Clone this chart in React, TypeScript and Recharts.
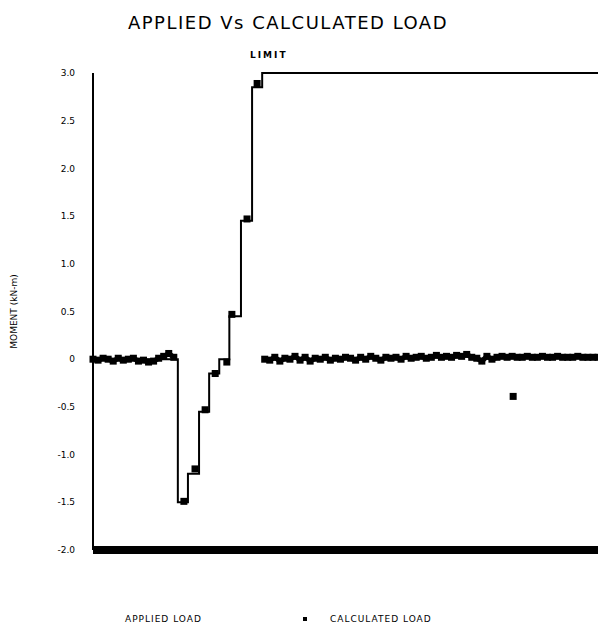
import React from 'react';
import { LineChart, Line, XAxis, YAxis } from 'recharts';

const yTicks = [3, 2.5, 2, 1.5, 1, 0.5, 0, -0.5, -1, -1.5, -2];
const yTickLabels = ['3.0', '2.5', '2.0', '1.5', '1.0', '0.5', '0', '-0.5', '-1.0', '-1.5', '-2.0'];

// Applied load: step breakpoints
const appliedX = [0, 16.8, 18.8, 21, 23, 25, 27, 29.3, 31.5, 33.5, 100];
const appliedY = [0, -1.5, -1.2, -0.55, -0.15, 0, 0.45, 1.45, 2.85, 3.0, 3.0];

// Calculated load: noisy baseline before the step
const calcLeftX = [0, 1, 2, 3, 4, 5, 6, 7, 8, 9, 10, 11, 12, 13, 14, 15, 16];
const calcLeftY = [0.0, -0.01, 0.01, 0.0, -0.02, 0.01, -0.01, 0.0, 0.01, -0.02, -0.01, -0.03, -0.02, 0.01, 0.03, 0.06, 0.02];

// Calculated load: step markers
const calcStepX = [18.0, 20.2, 22.2, 24.2, 26.5, 27.5, 30.5, 32.5];
const calcStepY = [-1.49, -1.15, -0.53, -0.15, -0.03, 0.47, 1.47, 2.89];

// Calculated load: noisy baseline after the step
const calcRightStart = 34;
const calcRightY = [
  0.0, -0.01, 0.02, -0.02, 0.01, 0.0, 0.03, -0.01, 0.02, -0.02, 0.01, 0.0, 0.02, -0.01, 0.01, 0.0,
  0.02, 0.01, -0.01, 0.02, 0.0, 0.03, 0.01, -0.01, 0.02, 0.01, 0.02, 0.0, 0.03, 0.01, 0.02, 0.03,
  0.01, 0.02, 0.04, 0.02, 0.03, 0.02, 0.04, 0.03, 0.05, 0.02, 0.01, -0.02, 0.03, 0.0, 0.02, 0.03,
  0.02, 0.03, 0.02, 0.02, 0.03, 0.02, 0.02, 0.03, 0.02, 0.02, 0.03, 0.02, 0.02, 0.02, 0.03, 0.02,
  0.02, 0.02, 0.02,
];
const calcOutlierX = [83.2];
const calcOutlierY = [-0.39];

const appliedData = appliedX.map((x, i) => ({ x, v: appliedY[i] }));

const calcData: { x: number; v: number | null }[] = [];
calcLeftX.forEach((x, i) => calcData.push({ x, v: calcLeftY[i] }));
calcStepX.forEach((x, i) => {
  calcData.push({ x, v: null });
  calcData.push({ x, v: calcStepY[i] });
});
calcData.push({ x: calcRightStart, v: null });
calcRightY.forEach((v, i) => calcData.push({ x: calcRightStart + i, v }));
calcOutlierX.forEach((x, i) => {
  calcData.push({ x, v: null });
  calcData.push({ x, v: calcOutlierY[i] });
});

const SquareDot = (props: any) => {
  const { cx, cy, payload } = props;
  if (payload == null || payload.v == null || cx == null || cy == null) return null;
  return <rect key={`d-${cx}-${cy}`} x={cx - 3.5} y={cy - 3.5} width={7} height={7} fill="#000" />;
};

const font = '"DejaVu Sans", sans-serif';

export default function App() {
  return (
    <div style={{ position: 'absolute', left: 0, top: 0, width: 598, height: 634, background: '#fff', fontFamily: font }}>
      <div style={{ position: 'absolute', left: 118, top: 12, width: 340, textAlign: 'center', fontSize: 18, letterSpacing: 1.5, color: '#000' }}>
        APPLIED Vs CALCULATED LOAD
      </div>
      <div style={{ position: 'absolute', left: 250, top: 50, fontSize: 9, fontWeight: 'bold', letterSpacing: 2, color: '#000' }}>
        LIMIT
      </div>
      <LineChart width={598} height={634} margin={{ top: 73, right: 0, left: 0, bottom: 80 }}>
        <XAxis
          type="number"
          dataKey="x"
          domain={[0, 100]}
          tick={false}
          tickLine={false}
          height={4}
          axisLine={{ stroke: '#000', strokeWidth: 8 }}
          allowDuplicatedCategory={false}
        />
        <YAxis
          type="number"
          domain={[-2, 3]}
          ticks={yTicks}
          width={93}
          tickLine={false}
          tickMargin={12}
          axisLine={{ stroke: '#000', strokeWidth: 2 }}
          tick={{ fontSize: 9, fill: '#000', fontFamily: font }}
          tickFormatter={(v: number) => yTickLabels[yTicks.indexOf(v)] ?? String(v)}
          label={{ value: 'MOMENT (kN-m)', angle: -90, position: 'insideLeft', offset: 14, style: { fontSize: 9, fill: '#000', fontFamily: font, textAnchor: 'middle' } }}
        />
        <Line
          data={appliedData}
          dataKey="v"
          type="stepAfter"
          stroke="#000"
          strokeWidth={2}
          dot={false}
          isAnimationActive={false}
        />
        <Line
          data={calcData}
          dataKey="v"
          type="linear"
          stroke="#000"
          strokeWidth={5}
          connectNulls={false}
          dot={<SquareDot />}
          activeDot={false}
          isAnimationActive={false}
        />
      </LineChart>
      <div style={{ position: 'absolute', left: 125, top: 614, fontSize: 9, letterSpacing: 1, color: '#000' }}>APPLIED LOAD</div>
      <div style={{ position: 'absolute', left: 303, top: 617, width: 4, height: 4, background: '#000' }} />
      <div style={{ position: 'absolute', left: 330, top: 614, fontSize: 9, letterSpacing: 1, color: '#000' }}>CALCULATED LOAD</div>
    </div>
  );
}
